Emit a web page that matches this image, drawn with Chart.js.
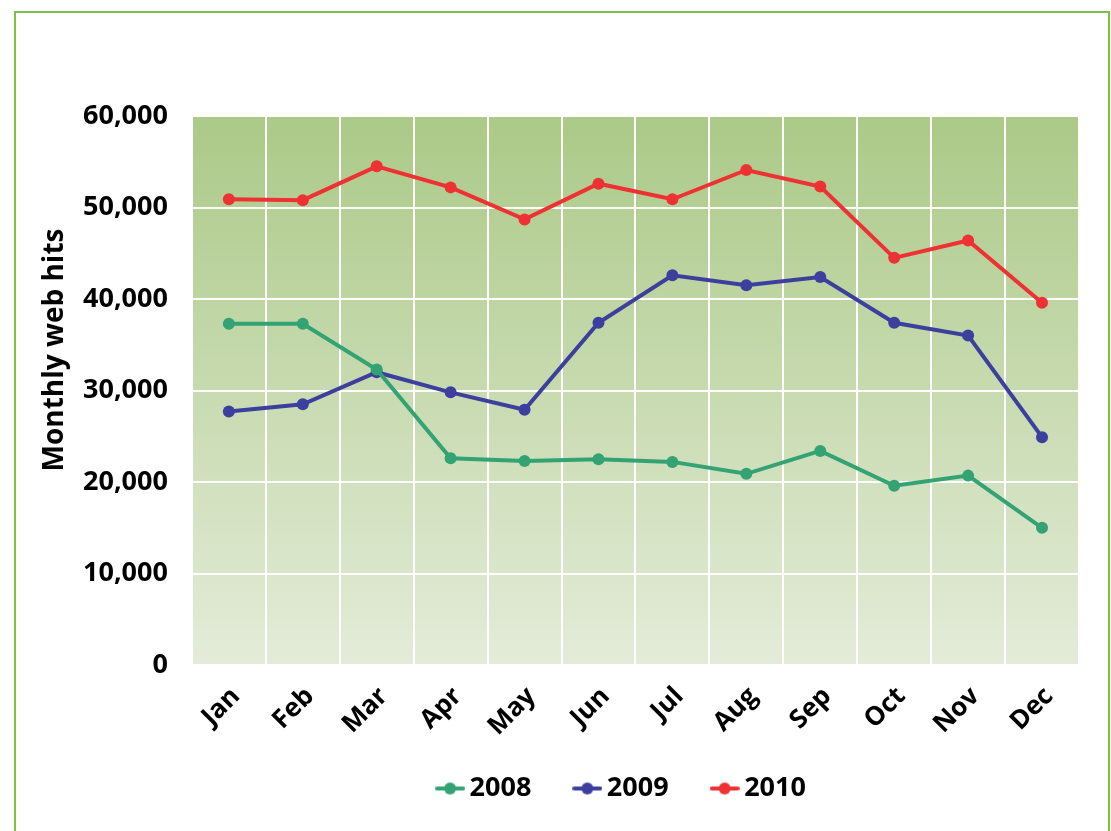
<!DOCTYPE html>
<html>
<head>
<meta charset="utf-8">
<script src="https://cdn.jsdelivr.net/npm/chart.js@4.4.1/dist/chart.umd.min.js"></script>
<style>
  html, body { margin: 0; padding: 0; background: #ffffff; overflow: hidden; }
  #wrap { position: relative; width: 1111px; height: 831px; }
  #frame { position: absolute; left: 14px; top: 11px; width: 1096px; height: 840px; border: 2px solid #7DC242; box-sizing: border-box; }
  #c { position: absolute; left: 0; top: 0; }
</style>
</head>
<body>
<div id="wrap">
  <div id="frame"></div>
  <canvas id="c" width="1111" height="831"></canvas>
</div>
<script>
const months = ["Jan","Feb","Mar","Apr","May","Jun","Jul","Aug","Sep","Oct","Nov","Dec"];
const hits2008 = [37300, 37300, 32300, 22600, 22300, 22500, 22200, 20900, 23400, 19600, 20700, 15000];
const hits2009 = [27700, 28500, 32000, 29800, 27900, 37400, 42600, 41500, 42400, 37400, 36000, 24900];
const hits2010 = [50900, 50800, 54500, 52200, 48700, 52600, 50900, 54100, 52300, 44500, 46400, 39600];
const seriesNames = ["2008", "2009", "2010"];
const yTicks = [0, 10000, 20000, 30000, 40000, 50000, 60000];
const yTitle = "Monthly web hits";

const colors = ["#33A373", "#3D3F9E", "#EE3234"];
const FONT = "'Open Sans', 'DejaVu Sans', sans-serif";

function legendSymbol(color) {
  const cv = document.createElement('canvas');
  cv.width = 30; cv.height = 14;
  const g = cv.getContext('2d');
  g.strokeStyle = color; g.lineWidth = 4; g.lineCap = 'round';
  g.beginPath(); g.moveTo(2, 7); g.lineTo(28, 7); g.stroke();
  g.fillStyle = color;
  g.beginPath(); g.arc(15, 7, 6, 0, Math.PI * 2); g.fill();
  return cv;
}
const symbols = colors.map(legendSymbol);

const plotBg = {
  id: 'plotBg',
  beforeDraw(chart) {
    const {ctx, chartArea: a} = chart;
    const grad = ctx.createLinearGradient(0, a.top, 0, a.bottom);
    grad.addColorStop(0, '#ABC987');
    grad.addColorStop(1, '#E4ECD9');
    ctx.save();
    ctx.fillStyle = grad;
    ctx.fillRect(a.left, a.top, a.right - a.left, a.bottom - a.top);
    ctx.restore();
  }
};

// y-axis title drawn slightly above the axis centre, as in the reference
const yTitlePlugin = {
  id: 'yTitlePlugin',
  afterDraw(chart) {
    const ctx = chart.ctx;
    ctx.save();
    ctx.translate(55, 350);
    ctx.rotate(-Math.PI / 2);
    ctx.font = "bold 28px " + FONT;
    ctx.fillStyle = '#000';
    ctx.textAlign = 'center';
    ctx.textBaseline = 'middle';
    ctx.fillText(yTitle, 0, 0);
    ctx.restore();
  }
};

// place the legend box (horizontal shift and vertical shift)
const legendPlace = {
  id: 'legendPlace',
  afterLayout(chart) {
    const lg = chart.legend;
    if (!lg) return;
    const dx = 56, dy = -33;
    lg.left += dx; lg.right += dx;
    lg.top += dy; lg.bottom += dy;
  }
};

const dataSets = [hits2008, hits2009, hits2010].map((vals, i) => ({
  label: seriesNames[i],
  data: vals,
  borderColor: colors[i],
  backgroundColor: colors[i],
  borderWidth: 4,
  pointRadius: 6,
  pointHoverRadius: 6,
  pointBorderWidth: 0,
  tension: 0,
  fill: false
}));

new Chart(document.getElementById('c'), {
  type: 'line',
  data: { labels: months, datasets: dataSets },
  options: {
    responsive: false,
    animation: false,
    devicePixelRatio: 1,
    layout: { padding: { left: 59, right: 32, top: 116, bottom: -14 } },
    plugins: {
      tooltip: { enabled: false },
      legend: {
        position: 'bottom',
        labels: {
          color: '#000',
          font: { family: FONT, size: 27, weight: 'bold' },
          usePointStyle: true,
          pointStyleWidth: 12,
          padding: 50,
          generateLabels(chart) {
            return chart.data.datasets.map((ds, i) => ({
              text: ds.label,
              pointStyle: symbols[i],
              fillStyle: colors[i],
              strokeStyle: colors[i],
              lineWidth: 0,
              hidden: false,
              datasetIndex: i,
              fontColor: '#000'
            }));
          }
        }
      }
    },
    scales: {
      x: {
        offset: true,
        grid: { color: '#FFFFFF', lineWidth: 2, offset: true, drawTicks: false },
        border: { display: false },
        ticks: {
          color: '#000',
          font: { family: FONT, size: 26, weight: 'bold' },
          maxRotation: 45, minRotation: 45,
          padding: 16,
          labelOffset: 7,
          autoSkip: false
        }
      },
      y: {
        min: 0, max: 60000,
        afterBuildTicks(axis) { axis.ticks = yTicks.map(v => ({ value: v })); },
        grid: { color: '#FFFFFF', lineWidth: 2, drawTicks: false },
        border: { display: false },
        ticks: {
          color: '#000',
          font: { family: FONT, size: 27, weight: 'bold' },
          padding: 24,
          callback: v => v.toLocaleString('en-US')
        },
        title: { display: false }
      }
    }
  },
  plugins: [plotBg, legendPlace, yTitlePlugin]
});
</script>
</body>
</html>
